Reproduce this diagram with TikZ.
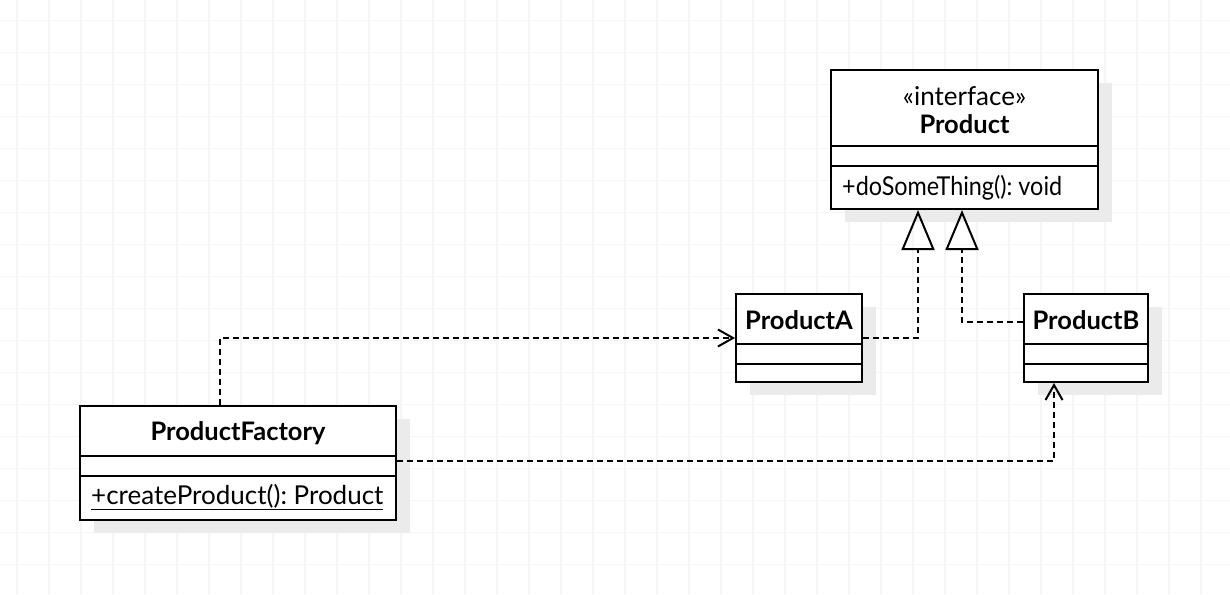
\documentclass[tikz,border=0pt]{standalone}
\usepackage{fontspec}
\setmainfont{Lato}
\usetikzlibrary{arrows.meta,shadows,calc}
\frenchspacing
\begin{document}
\begin{tikzpicture}[x=1pt,y=-1pt,
  gridline/.style={draw=black!4,line width=1.6pt},
  umlbox/.style={draw=black,line width=2pt,fill=white,inner sep=0pt,
    general shadow={shadow xshift=14pt,shadow yshift=-13pt,fill=black!8}},
  divider/.style={line width=2pt},
  conn/.style={line width=2pt,dash pattern=on 6pt off 4pt},
  real/.style={conn,-{Triangle[open,length=40pt,width=33pt]}},
  dep/.style={conn,-{Straight Barb[length=15pt,width=17pt]}},
  lbl/.style={inner sep=0pt,font=\fontsize{26}{30}\selectfont},
  blbl/.style={lbl,font=\fontsize{25.5}{30}\selectfont\bfseries}]
\useasboundingbox (0,0) rectangle (1230,594);
\fill[white] (0,0) rectangle (1230,594);
% background grid
\foreach \k in {0,...,37} \draw[gridline] (16.7+32*\k,0) -- (16.7+32*\k,594);
\foreach \k in {0,...,17} \draw[gridline] (0,20.5+32*\k) -- (1230,20.5+32*\k);
% classes
\node[umlbox,minimum width=267pt,minimum height=139pt] (product) at (964.5,139.5) {};
\node[umlbox,minimum width=126pt,minimum height=88pt] (pA) at (799,338) {};
\node[umlbox,minimum width=124pt,minimum height=88pt] (pB) at (1086,338) {};
\node[umlbox,minimum width=316pt,minimum height=114pt] (factory) at (238,463) {};
% compartments
\draw[divider] (product.west |- 0,146) -- (product.east |- 0,146);
\draw[divider] (product.west |- 0,166) -- (product.east |- 0,166);
\draw[divider] (pA.west |- 0,344) -- (pA.east |- 0,344);
\draw[divider] (pA.west |- 0,364) -- (pA.east |- 0,364);
\draw[divider] (pB.west |- 0,344) -- (pB.east |- 0,344);
\draw[divider] (pB.west |- 0,364) -- (pB.east |- 0,364);
\draw[divider] (factory.west |- 0,456) -- (factory.east |- 0,456);
\draw[divider] (factory.west |- 0,476) -- (factory.east |- 0,476);
% texts
\node[lbl] (stereo) at (964.5,96) {«interface»};
\node[blbl] (ptitle) at (964.5,124) {Product};
\node[lbl,anchor=west] (pop) at (842,188) {\scalebox{0.9}[1]{+doSomeThing(): void}};
\node[blbl] (atitle) at (799,320) {ProductA};
\node[blbl] (btitle) at (1086,320) {ProductB};
\node[blbl] (ftitle) at (238,433) {ProductFactory};
\node[lbl,anchor=west] (fop) at (91,497) {\underline{+createProduct(): Product}};
% connectors
\coordinate (ta) at ($(product.south)+(-46.5,0)$);
\coordinate (tb) at ($(product.south)+(-2.5,0)$);
\draw[real] (pA.east) -| (ta);
\draw[real] ($(pB.west)+(0,-16)$) -| (tb);
\draw[dep] ($(factory.north)+(-18,0)$) |- (pA.west);
\draw[dep] ($(factory.east)+(0,-2)$) -| ($(pB.south)+(-32,0)$);
\end{tikzpicture}
\end{document}
